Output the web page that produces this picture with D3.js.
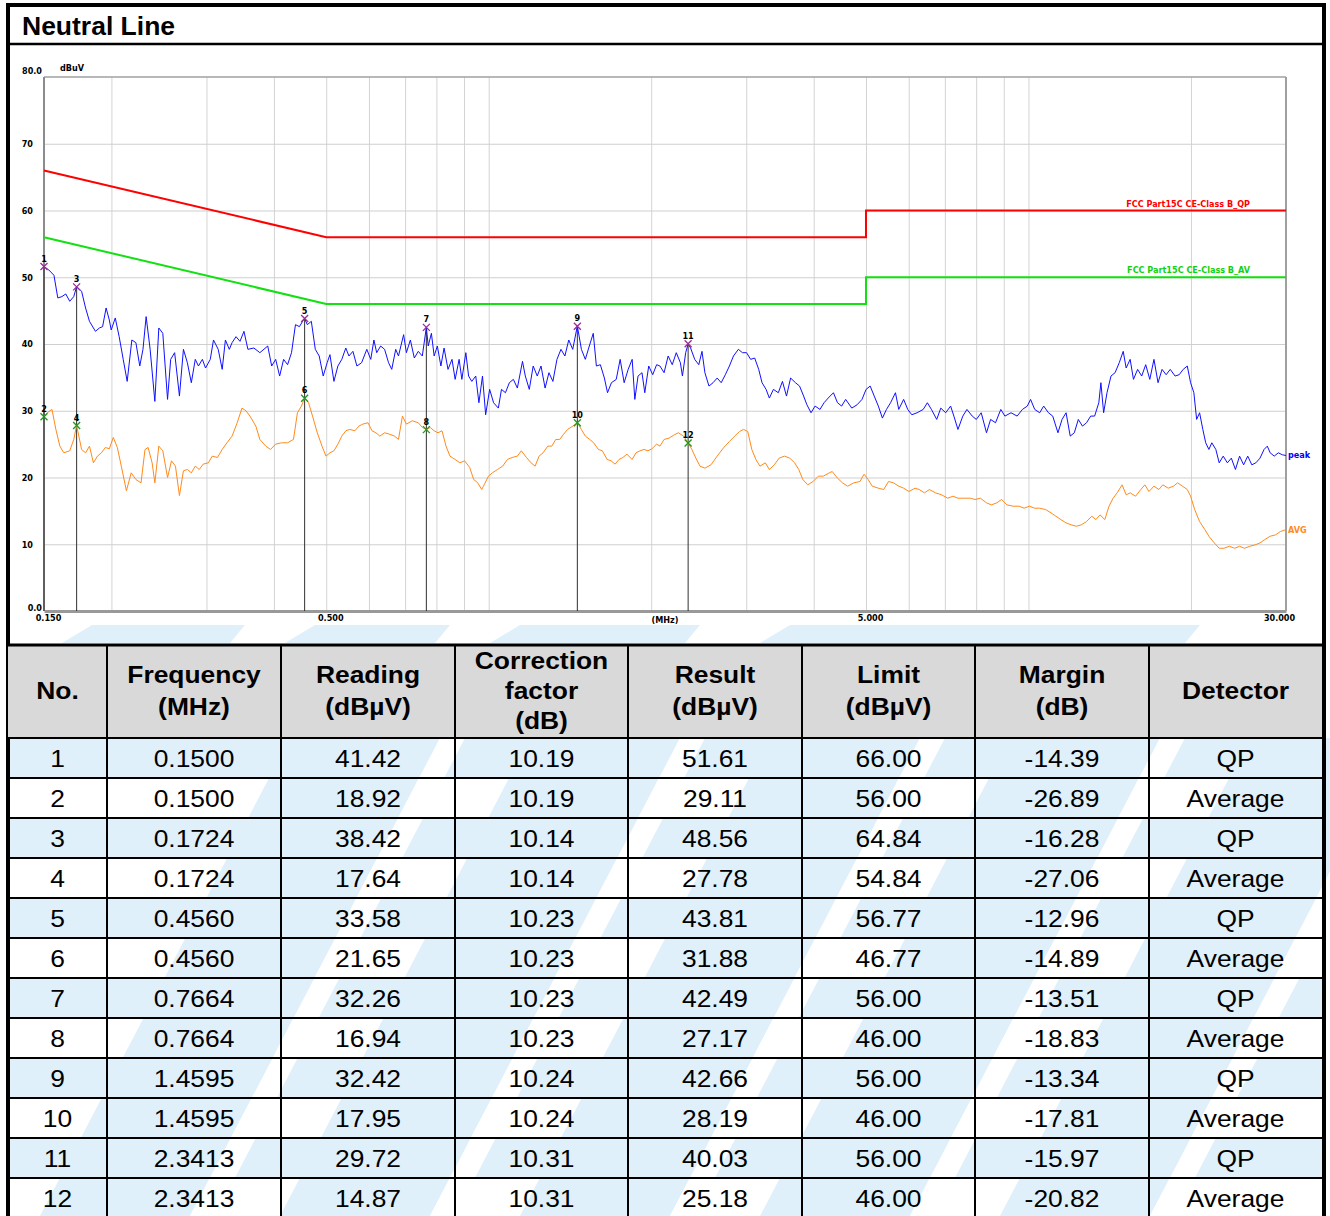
<!DOCTYPE html>
<html>
<head>
<meta charset="utf-8">
<script src="https://cdn.jsdelivr.net/npm/d3@7"></script>
<style>
  body { margin: 0; background: #fff; }
  svg { display: block; font-family: 'Liberation Sans', Arial, sans-serif; }
  .small { font-family: 'Liberation Sans Narrow', 'DejaVu Sans Condensed', sans-serif; font-weight: bold; font-size: 9px; }
</style>
</head>
<body>
<svg id="chart" width="1330" height="1216"></svg>
<script>
// ---- data ----
// peak trace [MHz, dBuV]
const peakTrace = [
  [0.150,51.6],[0.1531,51.1],[0.1565,50.3],[0.1591,46.9],[0.1619,47.1],[0.1646,47.5],[0.1674,46.4],[0.1703,47.1],[0.1724,48.6],[0.1761,47.9],
  [0.1791,45.4],[0.1821,43.4],[0.1868,41.9],[0.1900,42.4],[0.1926,42.6],[0.1955,45.4],[0.1982,43.6],[0.1998,42.1],[0.2033,43.9],[0.2067,41.1],
  [0.2103,37.7],[0.2139,34.4],[0.2182,40.6],[0.2220,40.2],[0.2257,36.7],[0.2288,39.2],[0.2319,44.1],[0.2359,39.2],[0.2407,31.4],[0.2448,42.4],
  [0.2490,41.6],[0.2541,31.7],[0.2575,37.7],[0.2619,38.7],[0.2673,32.2],[0.2719,39.2],[0.2765,37.2],[0.2812,34.2],[0.2860,37.7],[0.2899,36.7],
  [0.2948,37.7],[0.2988,36.4],[0.3049,37.7],[0.3091,40.6],[0.3154,39.2],[0.3208,36.2],[0.3252,40.6],[0.3307,39.2],[0.3346,40.2],[0.3403,41.1],
  [0.3461,40.4],[0.3520,41.9],[0.3580,39.2],[0.3672,39.4],[0.3767,38.7],[0.3896,39.7],[0.3962,36.7],[0.4030,37.7],[0.4099,35.2],[0.4169,37.7],
  [0.4240,36.9],[0.4312,38.7],[0.4385,42.9],[0.4460,42.6],[0.4536,43.6],[0.4560,43.8],[0.4613,42.9],[0.4692,43.4],[0.4772,39.2],[0.4853,38.2],
  [0.4936,35.2],[0.5020,37.2],[0.5080,38.4],[0.5167,34.4],[0.5255,36.7],[0.5344,37.7],[0.5435,39.4],[0.5509,38.2],[0.5603,38.9],[0.5699,36.7],
  [0.5815,37.2],[0.5945,39.2],[0.6046,37.7],[0.6128,40.6],[0.6201,38.7],[0.6307,39.7],[0.6414,39.2],[0.6523,37.2],[0.6612,36.2],[0.6725,39.2],
  [0.6805,38.2],[0.6956,41.4],[0.7039,38.7],[0.7159,40.6],[0.7281,37.9],[0.7405,38.9],[0.7533,38.2],[0.7664,42.5],[0.7726,39.7],[0.7831,41.6],
  [0.7924,38.2],[0.8032,39.7],[0.8155,36.7],[0.8266,39.4],[0.8406,36.2],[0.8550,37.7],[0.8666,34.7],[0.8814,37.7],[0.8918,34.7],[0.9070,38.7],
  [0.9178,35.2],[0.9303,34.4],[0.9462,35.2],[0.9590,31.2],[0.9738,35.2],[0.9870,29.4],[1.004,33.2],[1.021,31.2],[1.042,30.4],[1.056,33.2],
  [1.074,32.7],[1.092,34.2],[1.111,34.7],[1.130,33.4],[1.155,37.4],[1.169,35.2],[1.189,33.2],[1.209,36.7],[1.230,35.2],[1.250,36.7],
  [1.272,33.4],[1.293,35.7],[1.315,34.4],[1.338,37.7],[1.361,39.2],[1.384,38.2],[1.407,40.6],[1.431,39.2],[1.4595,42.7],[1.485,39.2],
  [1.510,37.7],[1.536,39.7],[1.562,41.6],[1.583,36.7],[1.610,36.9],[1.638,34.9],[1.660,32.7],[1.688,34.2],[1.723,34.7],[1.752,37.7],
  [1.782,34.2],[1.813,36.2],[1.844,37.7],[1.865,31.7],[1.891,35.2],[1.923,35.7],[1.946,32.7],[1.979,36.7],[2.013,35.4],[2.047,36.9],
  [2.076,36.7],[2.113,35.7],[2.150,38.2],[2.188,36.9],[2.226,38.7],[2.265,37.2],[2.285,35.2],[2.317,38.7],[2.3413,40.0],[2.366,39.4],
  [2.408,37.7],[2.450,36.9],[2.484,38.9],[2.515,35.7],[2.559,33.7],[2.604,34.2],[2.650,34.9],[2.696,34.2],[2.744,35.4],[2.792,36.7],
  [2.841,38.2],[2.901,39.2],[2.952,38.7],[3.004,38.7],[3.057,37.7],[3.110,37.9],[3.164,36.2],[3.209,34.2],[3.265,33.2],[3.311,31.9],
  [3.369,33.2],[3.440,32.7],[3.501,34.4],[3.562,32.2],[3.625,34.9],[3.701,34.2],[3.766,33.7],[3.832,32.2],[3.886,30.9],[3.955,29.7],
  [4.024,30.7],[4.109,30.2],[4.181,31.2],[4.255,31.9],[4.352,32.7],[4.428,31.2],[4.506,30.7],[4.585,31.7],[4.706,30.4],[4.814,30.9],
  [4.916,31.7],[5.002,33.2],[5.090,33.7],[5.179,32.2],[5.270,30.7],[5.363,28.9],[5.457,30.2],[5.553,31.2],[5.670,32.7],[5.750,30.2],
  [5.871,31.7],[5.975,30.2],[6.079,29.4],[6.219,29.7],[6.383,30.2],[6.496,31.2],[6.610,30.2],[6.761,28.7],[6.880,30.4],[7.025,29.7],
  [7.174,30.7],[7.274,29.2],[7.402,27.2],[7.558,29.2],[7.691,30.2],[7.867,29.2],[8.005,28.7],[8.174,29.7],[8.361,26.7],[8.508,28.7],
  [8.688,28.2],[8.887,30.2],[9.044,29.2],[9.283,29.7],[9.527,29.2],[9.746,30.2],[9.951,30.7],[10.09,31.7],[10.27,30.2],[10.49,29.7],
  [10.67,30.7],[10.89,29.7],[11.09,29.2],[11.34,26.7],[11.54,28.7],[11.74,29.7],[11.95,26.2],[12.16,26.7],[12.37,28.7],[12.59,27.7],
  [12.81,28.2],[13.04,29.2],[13.26,29.2],[13.50,31.2],[13.62,34.2],[13.78,29.7],[13.98,32.7],[14.22,35.2],[14.47,35.7],[14.73,37.2],
  [14.98,38.9],[15.17,36.4],[15.43,37.7],[15.65,34.7],[15.93,36.2],[16.21,35.2],[16.49,36.9],[16.78,34.7],[17.08,37.7],[17.38,34.2],
  [17.68,36.2],[17.99,35.4],[18.31,36.2],[18.69,35.2],[19.02,35.4],[19.35,36.2],[19.69,36.7],[19.97,34.2],[20.25,32.7],[20.49,28.7],
  [20.75,29.7],[21.04,27.2],[21.30,25.2],[21.59,24.2],[21.86,25.2],[22.24,24.2],[22.56,22.2],[22.95,23.2],[23.36,22.2],[23.76,22.9],
  [24.18,21.2],[24.61,23.2],[25.04,21.9],[25.48,23.2],[25.93,21.9],[26.38,22.2],[26.85,22.9],[27.32,24.2],[27.70,24.7],[28.04,23.7],
  [28.53,23.2],[29.03,23.7],[29.54,23.4],[30.00,23.3]
];

// average trace [MHz, dBuV]
const avgTrace = [
  [0.150,29.1],[0.1526,29.8],[0.1552,30.2],[0.1578,27.2],[0.1605,24.7],[0.1632,23.7],[0.1674,24.0],[0.1703,25.7],[0.1724,27.8],[0.1761,24.2],
  [0.1791,23.7],[0.1821,24.7],[0.1852,22.2],[0.1884,23.2],[0.1916,23.7],[0.1949,24.5],[0.1982,24.3],[0.2016,26.0],[0.2051,24.5],[0.2086,21.7],
  [0.2132,18.0],[0.2176,20.7],[0.2220,19.7],[0.2269,19.2],[0.2308,24.2],[0.2339,24.5],[0.2379,22.2],[0.2407,19.2],[0.2448,24.7],[0.2490,24.0],
  [0.2541,20.0],[0.2584,22.5],[0.2628,21.7],[0.2673,17.3],[0.2719,21.0],[0.2765,21.2],[0.2812,20.7],[0.2860,21.7],[0.2909,21.2],[0.2958,22.0],
  [0.3024,22.2],[0.3075,23.2],[0.3144,23.0],[0.3208,24.2],[0.3274,25.2],[0.3346,26.2],[0.3420,28.2],[0.3491,30.4],[0.3550,30.0],[0.3611,29.2],
  [0.3703,27.7],[0.3767,25.7],[0.3863,24.7],[0.3942,24.2],[0.4030,25.0],[0.4133,25.2],[0.4240,25.2],[0.4348,25.7],[0.4422,29.7],[0.4498,30.7],
  [0.4560,31.9],[0.4637,31.2],[0.4716,29.2],[0.4813,26.7],[0.4911,24.7],[0.4995,23.2],[0.5080,23.7],[0.5167,24.0],[0.5255,25.0],[0.5344,26.2],
  [0.5435,27.0],[0.5528,27.2],[0.5651,27.0],[0.5747,27.7],[0.5845,28.0],[0.5975,28.2],[0.6077,27.0],[0.6180,26.7],[0.6285,26.2],[0.6414,26.7],
  [0.6545,26.5],[0.6691,26.2],[0.6805,25.7],[0.6921,29.2],[0.7039,28.0],[0.7219,28.5],[0.7405,28.2],[0.7533,27.5],[0.7664,27.2],[0.7791,27.5],
  [0.7924,27.0],[0.8055,26.7],[0.8193,27.0],[0.8335,24.7],[0.8476,23.2],[0.8666,22.7],[0.8842,22.2],[0.9023,22.5],[0.9222,21.5],[0.9379,19.7],
  [0.9542,19.2],[0.9705,18.2],[0.9821,19.0],[0.9988,20.2],[1.0158,20.7],[1.0383,21.2],[1.0614,21.7],[1.0831,22.7],[1.1053,23.0],[1.130,23.2],
  [1.1491,24.0],[1.1747,23.0],[1.1981,22.2],[1.2189,21.7],[1.2396,23.2],[1.2608,23.7],[1.2869,24.7],[1.3088,24.7],[1.3311,25.7],[1.3536,25.7],
  [1.3769,26.5],[1.3999,27.2],[1.4314,27.7],[1.4595,28.2],[1.485,27.2],[1.510,26.2],[1.5385,25.7],[1.5647,25.2],[1.5967,24.2],[1.6239,24.0],
  [1.6572,22.7],[1.6855,22.5],[1.7142,22.0],[1.7435,22.7],[1.7731,23.0],[1.8035,23.5],[1.8435,22.7],[1.8749,23.7],[1.9068,24.0],[1.9393,24.2],
  [1.9724,24.0],[2.0060,24.3],[2.047,25.0],[2.076,24.7],[2.113,25.7],[2.158,25.9],[2.207,26.4],[2.246,26.7],[2.297,26.2],[2.3413,25.2],
  [2.379,24.2],[2.420,22.9],[2.463,21.7],[2.515,21.4],[2.581,21.9],[2.650,23.2],[2.720,24.4],[2.792,25.4],[2.856,26.2],[2.916,26.9],
  [2.967,27.2],[3.019,26.9],[3.072,24.2],[3.126,22.7],[3.181,21.7],[3.254,22.2],[3.311,21.2],[3.381,21.9],[3.452,22.9],[3.531,23.2],
  [3.612,22.9],[3.688,22.2],[3.753,21.2],[3.819,19.7],[3.900,18.9],[3.989,19.4],[4.081,20.2],[4.168,20.2],[4.255,20.6],[4.329,20.9],
  [4.428,19.9],[4.522,19.2],[4.625,18.7],[4.747,19.2],[4.873,19.4],[4.960,20.5],[5.046,19.7],[5.135,18.7],[5.270,18.4],[5.391,18.2],
  [5.505,19.4],[5.621,19.2],[5.750,18.7],[5.871,18.4],[6.006,17.9],[6.165,18.4],[6.273,18.2],[6.417,17.7],[6.552,18.2],[6.726,17.7],
  [6.904,17.4],[7.087,16.9],[7.249,17.2],[7.402,16.9],[7.598,16.9],[7.799,16.9],[7.964,16.7],[8.147,16.9],[8.361,16.2],[8.538,15.9],
  [8.734,16.2],[8.918,16.7],[9.122,15.9],[9.364,15.7],[9.611,15.7],[9.814,15.4],[10.04,15.7],[10.27,15.4],[10.49,15.4],[10.76,15.2],
  [11.01,14.7],[11.24,14.2],[11.48,13.7],[11.74,13.2],[12.01,12.9],[12.27,12.7],[12.52,12.9],[12.81,13.4],[13.10,14.2],[13.33,13.7],
  [13.57,14.4],[13.85,13.7],[14.10,15.7],[14.35,16.9],[14.60,17.7],[14.91,18.9],[15.17,17.4],[15.43,17.7],[15.79,17.2],[16.15,18.2],
  [16.43,18.9],[16.72,17.9],[17.08,18.7],[17.44,18.2],[17.74,18.9],[18.15,18.4],[18.57,18.7],[18.89,19.2],[19.29,18.7],[19.69,18.2],
  [19.97,17.2],[20.32,15.2],[20.75,13.4],[21.22,12.2],[21.59,11.2],[22.09,10.2],[22.56,9.4],[23.03,9.4],[23.56,9.7],[24.10,9.4],
  [24.61,9.7],[25.13,9.4],[25.71,9.7],[26.29,9.9],[26.85,10.2],[27.41,10.7],[28.04,11.2],[28.68,11.4],[29.29,11.9],[30.00,12.2]
];

// limit lines (FCC Part 15C class B)
const limitFreq = [0.15, 0.5, 5, 5, 30];
const qpLimit = [66, 56, 56, 60, 60];
const avLimit = [56, 46, 46, 50, 50];
const qpLimitName = 'FCC Part15C CE-Class B_QP';
const avLimitName = 'FCC Part15C CE-Class B_AV';

// axes
const yTicks = [0, 10, 20, 30, 40, 50, 60, 70, 80];
const yTickLabels = ['0.0', '10', '20', '30', '40', '50', '60', '70', '80.0'];
const xTicks = [0.15, 0.5, 5, 30];
const xTickLabels = ['0.150', '0.500', '5.000', '30.000'];
const xGrid = [0.2, 0.3, 0.4, 0.5, 0.6, 0.7, 0.8, 0.9, 1, 2, 3, 4, 5, 6, 7, 8, 9, 10, 20];

// result table
const colHeaders = [['No.'], ['Frequency', '(MHz)'], ['Reading', '(dBµV)'], ['Correction', 'factor', '(dB)'],
  ['Result', '(dBµV)'], ['Limit', '(dBµV)'], ['Margin', '(dB)'], ['Detector']];
const tblNo = ['1','2','3','4','5','6','7','8','9','10','11','12'];
const tblFreq = ['0.1500','0.1500','0.1724','0.1724','0.4560','0.4560','0.7664','0.7664','1.4595','1.4595','2.3413','2.3413'];
const tblReading = ['41.42','18.92','38.42','17.64','33.58','21.65','32.26','16.94','32.42','17.95','29.72','14.87'];
const tblCorr = ['10.19','10.19','10.14','10.14','10.23','10.23','10.23','10.23','10.24','10.24','10.31','10.31'];
const tblResult = ['51.61','29.11','48.56','27.78','43.81','31.88','42.49','27.17','42.66','28.19','40.03','25.18'];
const tblLimit = ['66.00','56.00','64.84','54.84','56.77','46.77','56.00','46.00','56.00','46.00','56.00','46.00'];
const tblMargin = ['-14.39','-26.89','-16.28','-27.06','-12.96','-14.89','-13.51','-18.83','-13.34','-17.81','-15.97','-20.82'];
const tblDetector = ['QP','Average','QP','Average','QP','Average','QP','Average','QP','Average','QP','Average'];

// ---- layout ----
const svg = d3.select('#chart');
const plot = { left: 44, right: 1286, top: 77, bottom: 611 };
const x = d3.scaleLog().domain([0.15, 30]).range([plot.left, plot.right]);
const y = d3.scaleLinear().domain([0, 80]).range([plot.bottom, plot.top]);

const colEdges = [8, 107, 281, 455, 628, 802, 975, 1149, 1322];
const headTop = 645, headBottom = 738, rowH = 40;

// watermark (light blue swooshes behind the table)
const wm = svg.append('g').attr('fill', '#dff0fb');
// strip just under the plot, cut into slanted pieces
const topStrip = [[62, 245], [285, 450], [490, 700], [760, 1200]];
wm.selectAll('path.strip').data(topStrip).enter().append('path')
  .attr('d', d => `M${d[0]},643 L${d[1] - 15},643 L${d[1]},625 L${d[0] + 30},625 Z`);
const bandRows = d3.range(0, 12, 2);
wm.selectAll('rect.band').data(bandRows).enter().append('rect')
  .attr('x', colEdges[0]).attr('width', colEdges[8] - colEdges[0])
  .attr('y', d => headBottom + d * rowH).attr('height', rowH);
const slashes = [40, 280, 520, 760, 1000];
wm.selectAll('path.slash').data(slashes).enter().append('path')
  .attr('d', d => `M${d},1216 L${d + 150},1216 L${d + 400},738 L${d + 250},738 Z`);
svg.append('g').attr('fill', '#fff').selectAll('path').data(slashes).enter().append('path')
  .attr('d', d => `M${d + 150},1216 L${d + 175},1216 L${d + 425},738 L${d + 400},738 Z`);

// frame
svg.append('rect').attr('x', 8).attr('y', 5).attr('width', 1316).attr('height', 1213)
  .attr('fill', 'none').attr('stroke', '#000').attr('stroke-width', 4);
svg.append('line').attr('x1', 8).attr('x2', 1322).attr('y1', 44).attr('y2', 44)
  .attr('stroke', '#000').attr('stroke-width', 2.5);
svg.append('text').attr('transform', 'translate(22,35) scale(1.06,1)')
  .attr('font-size', 25).attr('font-weight', 'bold').text('Neutral Line');

// grid
const grid = svg.append('g');
grid.append('g').attr('transform', `translate(0,${plot.bottom})`)
  .call(d3.axisBottom(x).tickValues(xGrid).tickSize(-(plot.bottom - plot.top)).tickFormat(''))
  .call(g => g.select('.domain').remove())
  .call(g => g.selectAll('line').attr('stroke', '#d4d4d4'));
grid.append('g').attr('transform', `translate(${plot.left},0)`)
  .call(d3.axisLeft(y).tickValues(yTicks.slice(1, -1)).tickSize(-(plot.right - plot.left)).tickFormat(''))
  .call(g => g.select('.domain').remove())
  .call(g => g.selectAll('line').attr('stroke', '#cfcfcf'));

// plot frame
svg.append('line').attr('x1', plot.left).attr('x2', plot.right).attr('y1', plot.top).attr('y2', plot.top)
  .attr('stroke', '#a0a0a0').attr('stroke-width', 1.5);
svg.append('line').attr('x1', plot.right).attr('x2', plot.right).attr('y1', plot.top).attr('y2', plot.bottom)
  .attr('stroke', '#a0a0a0').attr('stroke-width', 2);
svg.append('line').attr('x1', plot.left).attr('x2', plot.left).attr('y1', plot.top).attr('y2', plot.bottom)
  .attr('stroke', '#8c8c8c').attr('stroke-width', 2);

// y axis labels
const yAxis = svg.append('g').attr('class', 'small').attr('transform', `translate(${plot.left},0)`)
  .call(d3.axisLeft(y).tickValues(yTicks).tickSize(0).tickPadding(11).tickFormat((d, i) => yTickLabels[i]));
yAxis.select('.domain').remove();
yAxis.selectAll('text').attr('fill', '#000').attr('font-size', 9).attr('font-family', null);
yAxis.selectAll('.tick').filter(d => d === 80).select('text').attr('x', -2).attr('dy', '-0.35em');
yAxis.selectAll('.tick').filter(d => d === 0).select('text').attr('x', -2).attr('dy', '-0.05em');
svg.append('text').attr('class', 'small').attr('x', 60).attr('y', 71).text('dBuV');

// x axis labels
const xAxis = svg.append('g').attr('class', 'small').attr('transform', `translate(0,${plot.bottom})`)
  .call(d3.axisBottom(x).tickValues(xTicks).tickSize(0).tickPadding(4).tickFormat((d, i) => xTickLabels[i]));
xAxis.select('.domain').attr('stroke', '#999').attr('stroke-width', 3);
xAxis.selectAll('text').attr('fill', '#000').attr('font-size', 9).attr('font-family', null)
  .attr('dx', d => d === 30 ? -7 : 4);
svg.append('text').attr('class', 'small').attr('x', (plot.left + plot.right) / 2).attr('y', 623)
  .attr('text-anchor', 'middle').text('(MHz)');

// limit lines
const limitLine = d3.line().x(d => x(d[0])).y(d => y(d[1]));
const qpPts = limitFreq.map((f, i) => [f, qpLimit[i]]);
const avPts = limitFreq.map((f, i) => [f, avLimit[i]]);
svg.append('path').attr('d', limitLine(qpPts)).attr('fill', 'none').attr('stroke', '#ff0000').attr('stroke-width', 2);
svg.append('path').attr('d', limitLine(avPts)).attr('fill', 'none').attr('stroke', '#11e011').attr('stroke-width', 2);
svg.append('text').attr('class', 'small').attr('x', 1250).attr('y', y(60) - 4).attr('text-anchor', 'end')
  .attr('fill', '#ff0000').text(qpLimitName);
svg.append('text').attr('class', 'small').attr('x', 1250).attr('y', y(50) - 4).attr('text-anchor', 'end')
  .attr('fill', '#11d011').text(avLimitName);

// marker drop lines
const markFreqs = Array.from(new Set(tblFreq));
svg.append('g').selectAll('line').data(markFreqs).enter().append('line')
  .attr('x1', d => x(+d)).attr('x2', d => x(+d))
  .attr('y1', d => y(d3.max(tblFreq.map((f, i) => f === d ? +tblResult[i] : 0))))
  .attr('y2', plot.bottom)
  .attr('stroke', '#303030').attr('stroke-width', 1);

// traces
const traceLine = d3.line().x(d => x(d[0])).y(d => y(d[1]));
svg.append('path').attr('d', traceLine(avgTrace)).attr('fill', 'none').attr('stroke', '#ff8a1c').attr('stroke-width', 1);
svg.append('path').attr('d', traceLine(peakTrace)).attr('fill', 'none').attr('stroke', '#1010ff').attr('stroke-width', 1);
svg.append('text').attr('class', 'small').attr('x', plot.right + 2).attr('y', y(peakTrace[peakTrace.length - 1][1]) + 3)
  .attr('fill', '#0000ff').text('peak');
svg.append('text').attr('class', 'small').attr('x', plot.right + 2).attr('y', y(avgTrace[avgTrace.length - 1][1]) + 3)
  .attr('fill', '#ff8a1c').text('AVG');

// markers
const marks = svg.append('g').selectAll('g').data(tblNo).enter().append('g')
  .attr('transform', (d, i) => `translate(${x(+tblFreq[i])},${y(+tblResult[i])})`);
marks.append('path').attr('d', 'M-3.5,-3.5L3.5,3.5M-3.5,3.5L3.5,-3.5')
  .attr('stroke', (d, i) => tblDetector[i] === 'QP' ? '#a0289c' : '#1c9a1c').attr('stroke-width', 1.3);
marks.append('text').attr('class', 'small').attr('y', -5).attr('text-anchor', 'middle')
  .attr('font-size', 10.5).text(d => d);

// table
const tbl = svg.append('g');
tbl.append('rect').attr('x', colEdges[0]).attr('y', headTop).attr('width', colEdges[8] - colEdges[0])
  .attr('height', headBottom - headTop).attr('fill', '#d9d9d9');
const colCenter = d3.range(8).map(i => (colEdges[i] + colEdges[i + 1]) / 2);
colHeaders.forEach((lines, c) => {
  const mid = (headTop + headBottom) / 2 - 1;
  const step = lines.length === 3 ? 30 : 32;
  lines.forEach((t, k) => {
    const ty = mid + (k - (lines.length - 1) / 2) * step + 8.5;
    tbl.append('text').attr('transform', `translate(${colCenter[c]},${ty}) scale(1.1,1)`)
      .attr('text-anchor', 'middle').attr('font-size', 24).attr('font-weight', 'bold').text(t);
  });
});
const rows = tblNo.map((n, i) => [n, tblFreq[i], tblReading[i], tblCorr[i], tblResult[i], tblLimit[i], tblMargin[i], tblDetector[i]]);
rows.forEach((r, i) => {
  r.forEach((t, c) => {
    const ty = headBottom + i * rowH + rowH / 2 + 8.5;
    tbl.append('text').attr('transform', `translate(${colCenter[c]},${ty}) scale(1.1,1)`)
      .attr('text-anchor', 'middle').attr('font-size', 24).text(t);
  });
});
const hLines = [headTop, headBottom].concat(d3.range(1, 12).map(i => headBottom + i * rowH));
tbl.selectAll('line.h').data(hLines).enter().append('line')
  .attr('x1', colEdges[0]).attr('x2', colEdges[8]).attr('y1', d => d).attr('y2', d => d)
  .attr('stroke', '#000').attr('stroke-width', (d, i) => i === 0 ? 3 : 2);
tbl.selectAll('line.v').data(colEdges.slice(1, -1)).enter().append('line')
  .attr('x1', d => d).attr('x2', d => d).attr('y1', headTop).attr('y2', 1216)
  .attr('stroke', '#000').attr('stroke-width', 2);
</script>
</body>
</html>
